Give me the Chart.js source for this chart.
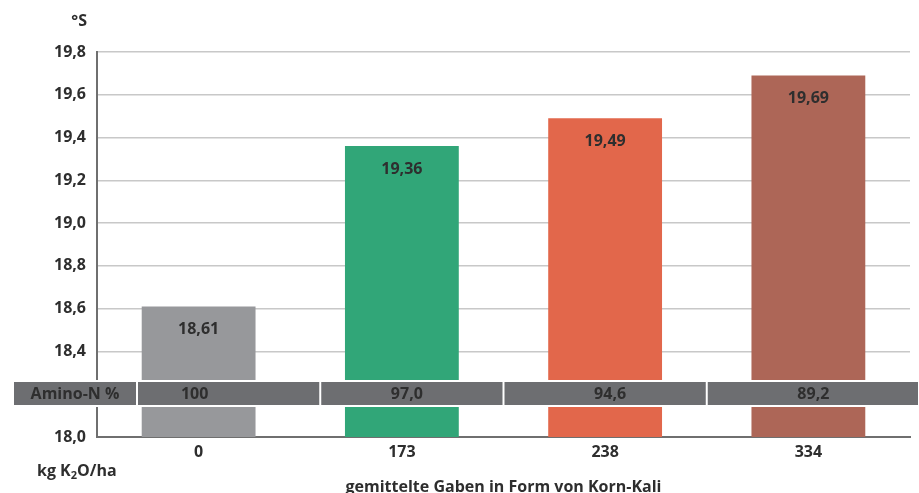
<!DOCTYPE html>
<html>
<head>
<meta charset="utf-8">
<script src="https://cdn.jsdelivr.net/npm/chart.js@4"></script>
<style>
  html, body { margin: 0; padding: 0; background: #ffffff; }
  #wrap { width: 919px; height: 493px; }
</style>
</head>
<body>
<div id="wrap"><canvas id="c" width="919" height="493"></canvas></div>
<script>
// chart data
const doses = ["0", "173", "238", "334"];
const sugar = [18.61, 19.36, 19.49, 19.69];
const aminoN = ["100", "97,0", "94,6", "89,2"];
const barColors = ["#97989b", "#31a678", "#e2674b", "#ad6657"];

const textColor = "#2e2e2e";
const bandColor = "#6d6e71";
const fontName = "'Open Sans', 'Noto Sans', sans-serif";

const fmt = v => v.toFixed(2).replace(".", ",");

// band with amino-N values and extra texts
const extras = {
	id: "extras",
	afterDatasetsDraw(chart) {
		const ctx = chart.ctx;
		const x = chart.scales.x;
		const meta = chart.getDatasetMeta(0);

		// value labels in bars
		ctx.save();
		ctx.font = "bold 16px " + fontName;
		ctx.fillStyle = textColor;
		ctx.textAlign = "center";
		ctx.textBaseline = "middle";
		meta.data.forEach((bar, i) => {
			ctx.fillText(fmt(sugar[i]), bar.x, bar.y + 23);
		});

		// amino band
		const top = 382, bot = 405;
		ctx.fillStyle = "#ffffff";
		ctx.fillRect(0, top - 2, chart.width, bot - top + 4);
		const step = x.getPixelForValue(1) - x.getPixelForValue(0);
		let edges = [13, x.left + 40];
		for (let i = 1; i < doses.length; i++) {
			edges.push(x.getPixelForValue(i) - step / 2 + (i == 1 ? 20 : 0));
		}
		edges.push(chart.width);
		ctx.fillStyle = bandColor;
		for (let i = 0; i < edges.length - 1; i++) {
			ctx.fillRect(edges[i] + 1, top, edges[i + 1] - edges[i] - 2, bot - top);
		}
		ctx.fillStyle = textColor;
		ctx.font = "bold 16px " + fontName;
		ctx.fillText("Amino-N %", (edges[0] + edges[1]) / 2, (top + bot) / 2 + 1);
		aminoN.forEach((t, i) => {
			ctx.fillText(t, x.getPixelForValue(i) + (i == 0 ? -4 : 5), (top + bot) / 2 + 1);
		});

		// unit texts
		ctx.font = "bold 16px " + fontName;
		ctx.textAlign = "right";
		ctx.fillText("°S", 87, 21);
		ctx.textAlign = "left";
		let px = 37;
		const py = 471;
		ctx.fillText("kg K", px, py);
		px += ctx.measureText("kg K").width;
		ctx.font = "bold 11px " + fontName;
		ctx.fillText("2", px, py + 5);
		px += ctx.measureText("2").width;
		ctx.font = "bold 16px " + fontName;
		ctx.fillText("O/ha", px, py);
		ctx.restore();
	}
};

new Chart(document.getElementById("c"), {
	type: "bar",
	data: {
		labels: doses,
		datasets: [{
			data: sugar,
			backgroundColor: barColors,
			categoryPercentage: 0.56,
			barPercentage: 1
		}]
	},
	options: {
		responsive: false,
		animation: false,
		layout: { padding: { top: 52, right: 9, left: 0, bottom: 0 } },
		plugins: {
			legend: { display: false },
			tooltip: { enabled: false }
		},
		scales: {
			x: {
				grid: { display: false, drawTicks: false },
				border: { color: "#6f6f6f", width: 2 },
				ticks: {
					color: textColor,
					font: { family: fontName, size: 16, weight: "bold" },
					padding: 6
				},
				title: {
					display: true,
					text: "gemittelte Gaben in Form von Korn-Kali",
					color: textColor,
					font: { family: fontName, size: 16, weight: "bold" },
					padding: { top: 14, bottom: -4 }
				},
				afterFit(s) { s.height = 56; }
			},
			y: {
				min: 18.0,
				max: 19.8,
				grid: { color: "#c8c8c8", lineWidth: 1.5, drawTicks: false },
				border: { color: "#6f6f6f", width: 2 },
				ticks: {
					stepSize: 0.2,
					color: textColor,
					padding: 11,
					font: { family: fontName, size: 16, weight: "bold" },
					callback: v => Math.abs(v - 18.2) < 0.01 ? "" : v.toFixed(1).replace(".", ",")
				},
				afterFit(s) { s.width = 97; }
			}
		}
	},
	plugins: [extras]
});
</script>
</body>
</html>
